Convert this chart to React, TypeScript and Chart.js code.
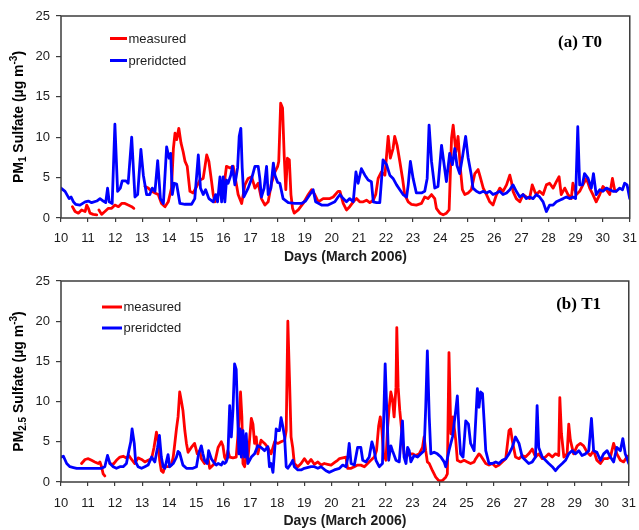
import { useEffect, useRef } from "react";
import { Chart, registerables } from "chart.js";

Chart.register(...registerables);

type Pt = [number, number | null];

// ---- Data (day of March 2006, sulfate µg m-3) ----
const T0_MEASURED: Pt[] = [
  [10.42, 1.4], [10.52, 0.8], [10.64, 0.6], [10.76, 1.0], [10.89, 0.8], [10.95, 1.6], [11.01, 1.2], [11.07, 0.6], [11.19, 0.45], [11.32, 0.4], [11.36, null],
  [11.4, 1.0], [11.5, 0.45], [11.62, 0.8], [11.75, 1.2], [11.87, 1.2], [11.99, 1.6], [12.12, 1.4], [12.24, 1.8], [12.36, 1.8], [12.48, 1.6], [12.61, 1.4], [12.69, 1.2], [12.9, null],
  [13.1, 3.9], [13.22, 3.7], [13.35, 3.3], [13.47, 3.1], [13.59, 2.9], [13.71, 1.8], [13.84, 1.4], [13.96, 2.0], [14.08, 3.7], [14.15, 8.6], [14.21, 10.5], [14.27, 9.7], [14.35, 11.1], [14.43, 9.3], [14.51, 8.2], [14.58, 7.0], [14.66, 6.4], [14.76, 3.3], [14.88, 3.1], [15.01, 3.9], [15.13, 4.7], [15.25, 4.9], [15.38, 7.8], [15.46, 7.0], [15.56, 4.5], [15.62, 2.9], [15.68, 2.0], [15.81, 2.9], [15.99, 3.3], [16.11, 6.4], [16.24, 6.2], [16.36, 6.4], [16.48, 4.1], [16.54, 2.9], [16.67, 1.8], [16.79, 4.1], [16.91, 4.9], [17.04, 5.1], [17.16, 3.7], [17.28, 4.3], [17.4, 2.4], [17.53, 1.6], [17.65, 2.0], [17.77, 4.3], [17.9, 5.7], [18.0, 6.4], [18.04, 7.0], [18.11, 14.2], [18.18, 13.6], [18.24, 7.8], [18.3, 3.5], [18.36, 7.4], [18.43, 7.2], [18.49, 2.9], [18.55, 1.2], [18.61, 0.6], [18.76, 1.0], [18.94, 1.8], [19.13, 2.9], [19.25, 3.5], [19.37, 2.9], [19.5, 2.0], [19.68, 2.4], [19.93, 2.4], [20.05, 2.6], [20.23, 3.3], [20.3, 3.3],
  [20.42, 1.8], [20.54, 1.0], [20.66, 1.4], [20.79, 2.0], [20.91, 2.4], [21.03, 2.0], [21.16, 2.0], [21.28, 2.2], [21.4, 1.9], [21.53, 2.2], [21.62, 2.9], [21.71, 4.9], [21.83, 5.7], [21.96, 5.3], [22.08, 10.1], [22.16, 7.4], [22.26, 8.6], [22.32, 10.1], [22.41, 9.0], [22.51, 7.0], [22.61, 4.9], [22.69, 2.9], [22.82, 2.0], [22.94, 1.7], [23.12, 1.6], [23.31, 1.8], [23.43, 2.6], [23.55, 2.4], [23.68, 2.9], [23.8, 2.4], [23.86, 1.2], [23.99, 0.6], [24.11, 0.4], [24.23, 0.6], [24.33, 1.0], [24.42, 9.9], [24.48, 11.5], [24.58, 8.2], [24.66, 10.1], [24.75, 6.0], [24.82, 3.5], [24.91, 2.9], [25.03, 3.1], [25.15, 3.5], [25.28, 5.5], [25.4, 6.0], [25.46, 5.3], [25.59, 3.7], [25.71, 2.9], [25.83, 2.0], [25.95, 1.6], [26.08, 2.9], [26.2, 3.7], [26.32, 3.3], [26.45, 4.1], [26.57, 5.3], [26.63, 4.5], [26.69, 3.3], [26.81, 2.4], [26.94, 2.0], [27.06, 2.9], [27.18, 2.6], [27.3, 2.4], [27.4, 4.1], [27.49, 3.3], [27.55, 2.9], [27.67, 3.3], [27.8, 2.9], [27.92, 4.1], [28.04, 4.3], [28.17, 3.7], [28.29, 4.5], [28.39, 5.1], [28.47, 2.9], [28.6, 3.7], [28.72, 2.9], [28.84, 2.4], [28.9, 4.3], [29.03, 2.9], [29.15, 3.3], [29.27, 4.1], [29.4, 4.9], [29.52, 3.7], [29.64, 2.9], [29.76, 2.0], [29.89, 2.9], [30.01, 3.9], [30.14, 3.5], [30.26, 2.9], [30.36, 4.9], [30.44, 3.5], [30.5, 3.3],
];

const T0_PREDICTED: Pt[] = [
  [10.0, 3.7], [10.15, 3.3], [10.3, 2.4], [10.37, 2.6], [10.46, 2.0], [10.54, 1.7], [10.7, 1.6], [10.89, 2.0], [11.01, 2.1], [11.13, 1.9], [11.32, 2.1], [11.44, 2.4], [11.56, 2.1], [11.65, 1.9], [11.72, 3.7], [11.78, 2.0], [11.89, 1.8], [11.99, 11.6], [12.09, 3.3], [12.19, 3.7], [12.26, 4.6], [12.39, 4.6], [12.48, 4.3], [12.61, 10.0], [12.73, 2.6], [12.83, 2.9], [12.95, 8.5], [13.04, 5.3], [13.16, 2.9], [13.28, 2.9], [13.37, 3.7], [13.47, 3.3], [13.57, 7.1], [13.67, 2.4], [13.78, 1.8], [13.9, 8.8], [13.99, 7.4], [14.05, 8.0], [14.11, 2.9], [14.18, 4.3], [14.27, 4.2], [14.39, 1.8], [14.58, 1.7], [14.82, 1.7], [14.94, 2.4], [15.07, 7.8], [15.15, 3.7], [15.25, 2.9], [15.34, 3.5], [15.46, 2.4], [15.62, 2.0], [15.71, 2.9], [15.78, 2.0], [15.87, 5.1], [15.93, 2.0], [15.99, 5.1], [16.05, 2.0], [16.11, 4.7], [16.17, 4.3], [16.27, 5.3], [16.33, 6.4], [16.42, 4.1], [16.52, 6.2], [16.58, 10.1], [16.64, 11.1], [16.69, 6.2], [16.75, 2.6], [16.91, 3.7], [17.04, 4.9], [17.16, 6.4], [17.28, 6.4], [17.34, 4.9], [17.4, 2.6], [17.5, 3.7], [17.59, 6.4], [17.65, 2.9], [17.75, 3.7], [17.84, 6.8], [17.9, 5.3], [18.0, 4.4], [18.08, 4.3], [18.2, 2.4], [18.39, 1.9], [18.63, 1.8], [18.88, 1.8], [19.03, 2.1], [19.19, 2.9], [19.31, 3.5], [19.4, 2.0], [19.62, 1.6], [19.86, 1.6], [20.11, 2.0], [20.23, 2.6],
  [20.3, 2.9], [20.42, 2.4], [20.54, 2.0], [20.66, 2.4], [20.79, 2.0], [20.89, 5.7], [20.97, 4.3], [21.09, 6.1], [21.22, 5.3], [21.34, 4.7], [21.46, 4.5], [21.53, 2.0], [21.65, 1.9], [21.77, 1.9], [21.89, 7.2], [22.02, 6.6], [22.14, 5.3], [22.26, 4.9], [22.39, 4.1], [22.51, 3.5], [22.63, 2.9], [22.76, 2.6], [22.82, 4.1], [22.9, 7.0], [23.0, 4.9], [23.12, 3.1], [23.31, 3.1], [23.43, 3.3], [23.52, 4.9], [23.59, 11.5], [23.68, 7.0], [23.8, 3.7], [23.92, 3.9], [24.05, 9.0], [24.13, 7.0], [24.23, 4.5], [24.35, 8.0], [24.45, 6.6], [24.54, 8.6], [24.62, 6.5], [24.72, 5.5], [24.82, 7.5], [24.94, 10.1], [25.03, 7.5], [25.15, 5.3], [25.21, 3.7], [25.34, 3.3], [25.46, 3.1], [25.59, 3.3], [25.71, 3.1], [25.83, 3.3], [25.95, 2.9], [26.08, 3.1], [26.2, 3.3], [26.32, 2.9], [26.45, 3.1], [26.57, 3.5], [26.69, 4.1], [26.81, 3.3], [26.94, 2.6], [27.06, 2.9], [27.18, 2.4], [27.3, 2.6], [27.43, 2.4], [27.55, 2.9], [27.67, 2.6], [27.8, 2.0], [27.92, 0.8], [28.04, 1.6], [28.17, 1.6], [28.29, 2.0], [28.41, 2.2], [28.54, 2.4], [28.66, 2.6], [28.78, 2.4], [28.9, 2.6], [29.0, 2.4], [29.08, 11.3], [29.15, 4.1], [29.25, 4.1], [29.33, 5.5], [29.46, 4.9], [29.58, 3.7], [29.66, 5.5], [29.76, 2.9], [29.89, 3.5], [30.01, 3.3], [30.14, 3.7], [30.26, 3.5], [30.38, 3.3], [30.5, 3.3], [30.63, 3.7], [30.73, 3.5], [30.81, 4.3], [30.9, 4.1], [31.0, 2.4],
];

const T1_MEASURED: Pt[] = [
  [10.76, 2.3], [10.89, 2.8], [11.01, 2.9], [11.13, 2.7], [11.25, 2.5], [11.38, 2.3], [11.44, 2.5], [11.5, 1.9], [11.56, 1.0], [11.62, 0.75], [11.7, null],
  [11.81, 2.3], [11.93, 2.2], [12.05, 2.7], [12.18, 3.1], [12.3, 3.2], [12.42, 3.0], [12.51, 3.3], [12.61, 2.8], [12.73, 2.3], [12.85, 3.0], [12.98, 2.8], [13.1, 2.5], [13.22, 2.7], [13.35, 2.9], [13.44, 4.3], [13.53, 6.2], [13.59, 5.2], [13.65, 2.7], [13.71, 1.4], [13.78, 1.2], [13.84, 1.9], [13.96, 1.9], [14.08, 2.1], [14.15, 3.1], [14.21, 4.8], [14.27, 6.6], [14.33, 8.1], [14.39, 11.2], [14.45, 10.1], [14.51, 8.9], [14.58, 6.4], [14.64, 4.8], [14.7, 3.7], [14.82, 4.3], [14.94, 4.8], [15.04, 3.5], [15.13, 3.9], [15.19, 2.9], [15.31, 2.3], [15.44, 2.9], [15.5, 1.7], [15.56, 1.9], [15.68, 2.3], [15.81, 4.3], [15.93, 5.0], [15.99, 4.5], [16.05, 3.1], [16.11, 2.7], [16.17, 3.9], [16.24, 3.1], [16.36, 3.0], [16.48, 3.1], [16.54, 5.6], [16.61, 8.9], [16.64, 11.2], [16.69, 8.1], [16.73, 2.3], [16.79, 1.9], [16.85, 3.1], [16.91, 2.7], [17.04, 7.9], [17.1, 7.2], [17.16, 4.8], [17.22, 5.6], [17.28, 3.5], [17.4, 5.2], [17.53, 4.8], [17.65, 4.3], [17.77, 3.5], [17.9, 5.0], [18.02, 4.8], [18.14, 5.0], [18.27, 5.2], [18.33, 6.4], [18.39, 20.0], [18.45, 13.0], [18.51, 5.6], [18.57, 4.3], [18.63, 2.3], [18.76, 1.9], [18.88, 2.3], [19.0, 2.9], [19.13, 2.3], [19.25, 2.8], [19.37, 2.2], [19.5, 2.5], [19.62, 2.1], [19.74, 2.3], [19.86, 2.2], [19.99, 2.1], [20.11, 2.4], [20.23, 2.7], [20.3, 2.9],
  [20.42, 3.0], [20.54, 3.1], [20.6, 1.7], [20.73, 1.7], [20.85, 1.9], [20.97, 2.1], [21.09, 2.1], [21.22, 1.9], [21.34, 2.3], [21.46, 2.7], [21.59, 3.1], [21.67, 3.9], [21.75, 7.0], [21.81, 8.1], [21.87, 6.4], [21.93, 3.5], [22.02, 2.7], [22.08, 6.8], [22.14, 9.3], [22.2, 11.2], [22.26, 10.3], [22.32, 8.1], [22.39, 11.8], [22.42, 19.2], [22.47, 11.8], [22.53, 8.9], [22.63, 5.4], [22.69, 3.5], [22.76, 3.1], [22.88, 3.5], [23.0, 3.5], [23.12, 3.3], [23.25, 3.5], [23.37, 4.3], [23.43, 5.6], [23.49, 3.9], [23.55, 2.5], [23.62, 2.3], [23.74, 1.4], [23.86, 0.6], [23.99, 0.1], [24.11, 0.2], [24.23, 0.6], [24.29, 1.0], [24.35, 16.1], [24.42, 6.0], [24.5, 8.1], [24.6, 5.2], [24.66, 2.7], [24.78, 2.5], [24.91, 2.7], [25.03, 2.5], [25.15, 2.3], [25.28, 2.5], [25.34, 2.9], [25.46, 3.5], [25.52, 3.3], [25.71, 2.3], [25.83, 2.1], [25.95, 2.3], [26.08, 1.9], [26.2, 2.1], [26.32, 2.5], [26.45, 2.9], [26.57, 6.4], [26.63, 6.6], [26.69, 5.2], [26.81, 3.1], [26.94, 2.9], [27.06, 3.3], [27.18, 3.1], [27.3, 3.5], [27.43, 4.1], [27.55, 3.1], [27.67, 3.5], [27.8, 2.9], [27.92, 3.1], [28.04, 3.5], [28.17, 3.1], [28.29, 3.5], [28.41, 3.3], [28.45, 10.5], [28.51, 6.0], [28.6, 3.1], [28.72, 3.5], [28.78, 7.2], [28.84, 5.2], [28.96, 3.5], [29.09, 4.5], [29.21, 4.8], [29.33, 4.5], [29.46, 3.7], [29.58, 3.3], [29.7, 3.9], [29.82, 2.7], [29.95, 2.3], [30.07, 2.9], [30.2, 2.9], [30.32, 3.1], [30.44, 4.8], [30.56, 3.5], [30.69, 2.7], [30.81, 2.5], [30.93, 3.1], [31.0, 3.3],
];

const T1_PREDICTED: Pt[] = [
  [10.0, 3.1], [10.09, 3.2], [10.21, 2.3], [10.33, 1.9], [10.46, 1.8], [10.58, 1.7], [10.76, 1.7], [11.01, 1.7], [11.25, 1.7], [11.5, 1.7], [11.62, 1.9], [11.72, 3.3], [11.81, 2.3], [11.93, 1.9], [12.05, 1.7], [12.18, 1.9], [12.3, 1.9], [12.42, 2.3], [12.51, 3.9], [12.58, 5.0], [12.63, 6.6], [12.71, 4.8], [12.76, 2.5], [12.85, 1.9], [12.98, 1.7], [13.1, 1.9], [13.22, 2.1], [13.35, 3.1], [13.47, 2.5], [13.57, 4.3], [13.64, 5.8], [13.71, 3.1], [13.78, 1.9], [13.84, 1.7], [13.96, 3.4], [14.02, 1.9], [14.15, 2.3], [14.27, 3.1], [14.33, 3.8], [14.39, 3.6], [14.51, 2.1], [14.64, 1.7], [14.76, 1.7], [14.88, 1.7], [15.01, 1.9], [15.09, 3.5], [15.19, 4.5], [15.25, 3.5], [15.31, 2.7], [15.41, 2.3], [15.46, 3.9], [15.56, 2.9], [15.68, 2.3], [15.74, 2.1], [15.81, 2.3], [15.93, 2.1], [15.99, 2.5], [16.05, 2.3], [16.11, 2.5], [16.17, 3.1], [16.24, 9.5], [16.3, 5.6], [16.36, 8.9], [16.42, 14.7], [16.48, 14.0], [16.54, 7.6], [16.58, 3.5], [16.62, 6.6], [16.67, 3.1], [16.73, 6.4], [16.79, 3.1], [16.85, 6.0], [16.91, 2.3], [17.04, 3.1], [17.16, 3.5], [17.28, 4.5], [17.4, 4.3], [17.53, 3.9], [17.65, 4.4], [17.71, 1.9], [17.77, 2.3], [17.84, 1.2], [17.9, 3.9], [17.96, 6.6], [18.02, 6.4], [18.08, 6.4], [18.14, 8.0], [18.2, 7.0], [18.27, 5.6], [18.33, 1.9], [18.39, 1.7], [18.51, 2.3], [18.57, 2.7], [18.63, 1.9], [18.76, 1.5], [18.88, 1.5], [19.0, 1.7], [19.25, 1.9], [19.37, 1.9], [19.5, 1.7], [19.62, 1.9], [19.8, 1.4], [19.93, 1.2], [20.11, 1.5], [20.3, 1.7],
  [20.42, 2.1], [20.54, 1.9], [20.6, 2.9], [20.66, 4.8], [20.73, 2.3], [20.85, 2.1], [20.97, 4.3], [21.09, 4.3], [21.16, 2.7], [21.28, 2.5], [21.4, 3.1], [21.5, 5.0], [21.56, 4.3], [21.65, 2.7], [21.77, 1.9], [21.89, 2.3], [21.99, 14.7], [22.05, 8.9], [22.12, 2.7], [22.2, 4.5], [22.26, 3.9], [22.39, 2.7], [22.51, 2.5], [22.63, 7.6], [22.69, 3.1], [22.76, 2.3], [22.82, 4.3], [22.88, 3.9], [22.94, 2.5], [23.06, 3.3], [23.19, 3.1], [23.31, 3.5], [23.43, 3.9], [23.49, 9.3], [23.55, 16.3], [23.62, 8.1], [23.68, 3.5], [23.8, 3.7], [23.92, 3.5], [24.05, 3.1], [24.17, 2.5], [24.23, 1.9], [24.35, 3.9], [24.48, 5.6], [24.6, 8.9], [24.66, 10.7], [24.72, 6.4], [24.78, 3.5], [24.87, 3.1], [24.97, 7.6], [25.07, 7.2], [25.15, 4.8], [25.28, 3.9], [25.4, 11.6], [25.46, 9.3], [25.52, 11.2], [25.59, 11.0], [25.65, 7.6], [25.71, 3.9], [25.83, 2.3], [25.95, 2.3], [26.08, 2.5], [26.2, 2.3], [26.32, 2.7], [26.45, 2.9], [26.57, 3.5], [26.69, 4.3], [26.81, 5.6], [26.94, 4.8], [27.06, 3.1], [27.18, 2.7], [27.3, 2.3], [27.43, 2.5], [27.55, 3.1], [27.61, 9.5], [27.67, 4.3], [27.8, 3.1], [27.92, 2.7], [28.04, 2.3], [28.17, 1.9], [28.29, 1.4], [28.41, 1.9], [28.54, 2.3], [28.66, 2.7], [28.78, 3.5], [28.9, 3.9], [29.03, 3.5], [29.15, 3.9], [29.27, 3.3], [29.4, 3.5], [29.52, 3.9], [29.62, 7.9], [29.7, 3.9], [29.82, 3.7], [29.95, 2.7], [30.07, 3.5], [30.2, 3.9], [30.32, 3.1], [30.44, 2.5], [30.56, 4.3], [30.69, 3.9], [30.78, 5.4], [30.87, 3.5], [31.0, 2.3],
];

const SERIES_LABELS = ["measured", "preridcted"];
const SERIES_COLORS = ["#ff0000", "#0000ff"];
const X_RANGE = [10, 31];
const Y_RANGE = [0, 25];
const X_STEP = 1;
const Y_STEP = 5;
const X_TITLE = "Days (March 2006)";

type Seg = [string, "" | "sub" | "sup"];
const Y_TITLE_T0: Seg[] = [["PM", ""], ["1", "sub"], [" Sulfate (\u00b5g m", ""], ["-3", "sup"], [")", ""]];
const Y_TITLE_T1: Seg[] = [["PM", ""], ["2.5", "sub"], [" Sulfate (\u00b5g m", ""], ["-3", "sup"], [")", ""]];

const SANS = "'Liberation Sans', Arial, sans-serif";
const SERIF = "'Liberation Serif', 'Times New Roman', serif";
const INK = "#1c1c1c";
const CANVAS_W = 646;

interface PanelCfg {
  top: number;
  height: number;
  padTop: number;
  xAxisHeight: number;
  xTickPad: number;
  titlePad: number;
  measured: Pt[];
  predicted: Pt[];
  yTitle: Seg[];
  legendX0: number;
  legendX1: number;
  legendY: number[];
  tag: string;
  tagX: number;
  tagY: number;
}

const PANELS: PanelCfg[] = [
  {
    top: 0, height: 270, padTop: 16, xAxisHeight: 52, xTickPad: 9, titlePad: 4,
    measured: T0_MEASURED, predicted: T0_PREDICTED, yTitle: Y_TITLE_T0,
    legendX0: 110, legendX1: 127, legendY: [38.5, 60.5],
    tag: "(a) T0", tagX: 602, tagY: 43,
  },
  {
    top: 262, height: 268, padTop: 19, xAxisHeight: 48, xTickPad: 10, titlePad: 0,
    measured: T1_MEASURED, predicted: T1_PREDICTED, yTitle: Y_TITLE_T1,
    legendX0: 102, legendX1: 122, legendY: [45, 66],
    tag: "(b) T1", tagX: 601, tagY: 43,
  },
];

function toXY(pts: Pt[]) {
  return pts.map(([x, y]) => ({ x, y }));
}

function Panel({ cfg }: { cfg: PanelCfg }) {
  const ref = useRef<HTMLCanvasElement | null>(null);
  useEffect(() => {
    if (!ref.current) return;
    const decor = {
      id: "decor",
      afterDraw(chart: any) {
        const { ctx, chartArea } = chart;
        const { left, top, right, bottom } = chartArea;
        ctx.save();
        // frame
        ctx.strokeStyle = "#3c3c3c";
        ctx.lineWidth = 1.5;
        ctx.strokeRect(left, top, right - left, bottom - top);
        // legend
        ctx.font = `13px ${SANS}`;
        ctx.textBaseline = "middle";
        ctx.textAlign = "left";
        chart.data.datasets.forEach((ds: any, i: number) => {
          const y = cfg.legendY[i];
          ctx.strokeStyle = ds.borderColor;
          ctx.lineWidth = 3;
          ctx.beginPath();
          ctx.moveTo(cfg.legendX0, y);
          ctx.lineTo(cfg.legendX1, y);
          ctx.stroke();
          ctx.fillStyle = INK;
          ctx.fillText(ds.label, cfg.legendX1 + 1.5, y + 0.5);
        });
        // panel tag
        ctx.font = `bold 17px ${SERIF}`;
        ctx.textAlign = "right";
        ctx.fillStyle = "#000";
        ctx.fillText(cfg.tag, cfg.tagX, cfg.tagY);
        // y title with sub/superscripts
        const big = `bold 14px ${SANS}`;
        const small = `bold 10px ${SANS}`;
        let total = 0;
        const widths = cfg.yTitle.map(([t, k]) => {
          ctx.font = k ? small : big;
          const w = ctx.measureText(t).width;
          total += w;
          return w;
        });
        ctx.translate(18, (top + bottom) / 2);
        ctx.rotate(-Math.PI / 2);
        ctx.textAlign = "left";
        ctx.textBaseline = "alphabetic";
        let x = -total / 2;
        cfg.yTitle.forEach(([t, k], i) => {
          ctx.font = k ? small : big;
          const dy = k === "sub" ? 8 : k === "sup" ? -1 : 5;
          ctx.fillText(t, x, dy);
          x += widths[i];
        });
        ctx.restore();
      },
    };

    const lineStyle = {
      borderWidth: 2.8,
      pointRadius: 0,
      tension: 0,
      spanGaps: false,
      borderJoinStyle: "round",
      borderCapStyle: "round",
    };

    const chart = new Chart(ref.current, {
      type: "line",
      data: {
        datasets: [
          {
            label: SERIES_LABELS[0],
            data: toXY(cfg.measured) as any,
            borderColor: SERIES_COLORS[0],
            backgroundColor: SERIES_COLORS[0],
            order: 1,
            ...lineStyle,
          },
          {
            label: SERIES_LABELS[1],
            data: toXY(cfg.predicted) as any,
            borderColor: SERIES_COLORS[1],
            backgroundColor: SERIES_COLORS[1],
            order: 0,
            ...lineStyle,
          },
        ],
      },
      options: {
        responsive: false,
        animation: false,
        devicePixelRatio: 1,
        layout: { padding: { top: cfg.padTop, right: 2, left: 0, bottom: 0 } },
        plugins: { legend: { display: false }, tooltip: { enabled: false } },
        scales: {
          x: {
            type: "linear",
            min: X_RANGE[0],
            max: X_RANGE[1],
            ticks: {
              stepSize: X_STEP,
              autoSkip: false,
              maxRotation: 0,
              padding: cfg.xTickPad,
              color: INK,
              font: { family: SANS, size: 13 },
              callback: (v: any) => String(v),
            },
            grid: { drawOnChartArea: false, drawTicks: true, tickLength: 4, color: "#3c3c3c", lineWidth: 1.2 },
            border: { display: false },
            title: {
              display: true,
              text: X_TITLE,
              color: INK,
              font: { family: SANS, size: 14, weight: "bold" },
              padding: { top: 0, bottom: cfg.titlePad },
            },
            afterFit: (s: any) => {
              s.height = cfg.xAxisHeight;
            },
          },
          y: {
            type: "linear",
            min: Y_RANGE[0],
            max: Y_RANGE[1],
            ticks: {
              stepSize: Y_STEP,
              padding: 6,
              color: INK,
              font: { family: SANS, size: 13 },
            },
            grid: { drawOnChartArea: false, drawTicks: true, tickLength: 5, color: "#3c3c3c", lineWidth: 1.2 },
            border: { display: false },
            afterFit: (s: any) => {
              s.width = 61;
            },
          },
        },
      },
      plugins: [decor],
    } as any);
    return () => chart.destroy();
  }, [cfg]);

  return (
    <canvas
      ref={ref}
      width={CANVAS_W}
      height={cfg.height}
      style={{ position: "absolute", left: 0, top: cfg.top, width: CANVAS_W, height: cfg.height }}
    />
  );
}

export default function App() {
  return (
    <div style={{ position: "absolute", left: 0, top: 0, width: 639, height: 530, background: "#fff", overflow: "hidden" }}>
      {PANELS.map((p, i) => (
        <Panel key={i} cfg={p} />
      ))}
    </div>
  );
}
